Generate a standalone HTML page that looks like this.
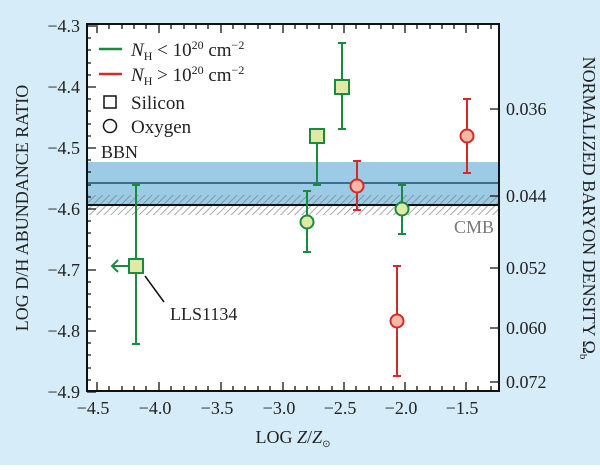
<!DOCTYPE html><html><head><style>body{margin:0}svg text{font-family:"Liberation Serif",serif;fill:#222}</style></head><body>
<svg width="600" height="465" xmlns="http://www.w3.org/2000/svg">
<defs><pattern id="h" width="5" height="5" patternUnits="userSpaceOnUse" patternTransform="rotate(45)"><line x1="0" y1="0" x2="0" y2="5" stroke="#777" stroke-width="1.6"/></pattern></defs>
<rect width="600" height="465" fill="#d6edf9"/>
<rect x="87" y="24" width="412" height="367" fill="#fff"/>
<rect x="87" y="162" width="412" height="43" fill="#9ccbe5"/>
<rect x="87" y="195" width="412" height="20" fill="url(#h)" opacity="0.8"/>
<line x1="87" y1="183" x2="499" y2="183" stroke="#1b4f6e" stroke-width="1.5"/>
<line x1="87" y1="205" x2="499" y2="205" stroke="#111" stroke-width="2"/>
<rect x="87" y="24" width="412" height="367" fill="none" stroke="#111" stroke-width="2"/>
<g stroke="#111" stroke-width="1.3">
<path d="M87 26h9M87 87h9M87 148h9M87 209h9M87 270h9M87 331h9M87 392h9"/>
<path d="M87 38h4M87 50h4M87 63h4M87 75h4M87 99h4M87 111h4M87 124h4M87 136h4M87 160h4M87 172h4M87 185h4M87 197h4M87 221h4M87 233h4M87 246h4M87 258h4M87 282h4M87 294h4M87 307h4M87 319h4M87 343h4M87 355h4M87 368h4M87 380h4"/>
<path d="M97 391v-9M159 391v-9M221 391v-9M283 391v-9M344 391v-9M405 391v-9M466 391v-9M97 24v9M159 24v9M221 24v9M283 24v9M344 24v9M405 24v9M466 24v9"/>
<path d="M109 391v-5M122 391v-5M134 391v-5M146 391v-5M171 391v-5M184 391v-5M196 391v-5M208 391v-5M233 391v-5M245 391v-5M258 391v-5M270 391v-5M295 391v-5M307 391v-5M319 391v-5M332 391v-5M356 391v-5M369 391v-5M381 391v-5M393 391v-5M417 391v-5M430 391v-5M442 391v-5M454 391v-5M478 391v-5M491 391v-5"/>
<path d="M109 24v5M122 24v5M134 24v5M146 24v5M171 24v5M184 24v5M196 24v5M208 24v5M233 24v5M245 24v5M258 24v5M270 24v5M295 24v5M307 24v5M319 24v5M332 24v5M356 24v5M369 24v5M381 24v5M393 24v5M417 24v5M430 24v5M442 24v5M454 24v5M478 24v5M491 24v5"/>
<path d="M499 109h-9M499 196h-9M499 268h-9M499 328h-9M499 382h-9"/>
</g>
<g font-size="18" text-anchor="end">
<text x="80" y="32">−4.3</text><text x="80" y="93">−4.4</text><text x="80" y="154">−4.5</text><text x="80" y="215">−4.6</text><text x="80" y="276">−4.7</text><text x="80" y="337">−4.8</text><text x="80" y="398">−4.9</text></g>
<g font-size="18" text-anchor="middle">
<text x="93" y="414">−4.5</text><text x="155" y="414">−4.0</text><text x="217" y="414">−3.5</text><text x="279" y="414">−3.0</text><text x="340" y="414">−2.5</text><text x="401" y="414">−2.0</text><text x="462" y="414">−1.5</text>
<text x="293" y="443">LOG <tspan font-style="italic">Z</tspan>/<tspan font-style="italic">Z</tspan><tspan font-size="10" dy="4">⊙</tspan></text></g>
<g font-size="18" text-anchor="start">
<text x="506" y="115">0.036</text><text x="506" y="202">0.044</text><text x="506" y="274">0.052</text><text x="506" y="334">0.060</text><text x="506" y="388">0.072</text></g>
<text transform="translate(28 208) rotate(-90)" font-size="18" text-anchor="middle">LOG D/H ABUNDANCE RATIO</text>
<text transform="translate(583 208) rotate(90)" font-size="18" text-anchor="middle">NORMALIZED BARYON DENSITY Ω<tspan font-size="11" dy="3">b</tspan></text>
<text x="101" y="158" font-size="18">BBN</text>
<text x="494" y="233" font-size="18" text-anchor="end" style="fill:#777">CMB</text>
<g font-size="19">
<line x1="99" y1="49" x2="122" y2="49" stroke="#1a8a3e" stroke-width="2.5"/>
<text x="131" y="56"><tspan font-style="italic">N</tspan><tspan font-size="12" dy="4">H</tspan><tspan dy="-4"> &lt; 10</tspan><tspan font-size="12" dy="-7">20</tspan><tspan dy="7"> cm</tspan><tspan font-size="12" dy="-7">−2</tspan></text>
<line x1="99" y1="74" x2="122" y2="74" stroke="#d62a2a" stroke-width="2.5"/>
<text x="131" y="81"><tspan font-style="italic">N</tspan><tspan font-size="12" dy="4">H</tspan><tspan dy="-4"> &gt; 10</tspan><tspan font-size="12" dy="-7">20</tspan><tspan dy="7"> cm</tspan><tspan font-size="12" dy="-7">−2</tspan></text>
<rect x="104" y="96" width="12" height="12" fill="none" stroke="#111" stroke-width="1.5"/>
<text x="131" y="109">Silicon</text>
<circle cx="110" cy="126" r="6.5" fill="none" stroke="#111" stroke-width="1.5"/>
<text x="131" y="133">Oxygen</text>
</g>
<g stroke="#1a8a3e" stroke-width="2" fill="#e0eaa6">
<path d="M136 185v159M132 185h8M132 344h8M129 266h-17M118 260l-6 6 6 6" fill="none"/>
<rect x="129" y="259" width="14" height="14"/>
<path d="M317 136v49M313 136h8M313 185h8" fill="none"/>
<rect x="310" y="129" width="14" height="14"/>
<path d="M342 43v86M338 43h8M338 129h8" fill="none"/>
<rect x="335" y="80" width="14" height="14"/>
<path d="M307 191v61M303 191h8M303 252h8" fill="none"/>
<circle cx="307" cy="222" r="6.5"/>
<path d="M402 185v49M398 185h8M398 234h8" fill="none"/>
<circle cx="402" cy="209" r="6.5"/>
</g>
<g stroke="#d62a2a" stroke-width="2" fill="#f7b9a4">
<path d="M357 161v49M353 161h8M353 210h8" fill="none"/>
<circle cx="357" cy="186" r="6.5"/>
<path d="M397 266v110M393 266h8M393 376h8" fill="none"/>
<circle cx="397" cy="321" r="6.5"/>
<path d="M467 99v74M463 99h8M463 173h8" fill="none"/>
<circle cx="467" cy="136" r="6.5"/>
</g>
<line x1="145" y1="276" x2="164" y2="302" stroke="#111" stroke-width="1.5"/>
<text x="170" y="320" font-size="18">LLS1134</text>
</svg></body></html>
